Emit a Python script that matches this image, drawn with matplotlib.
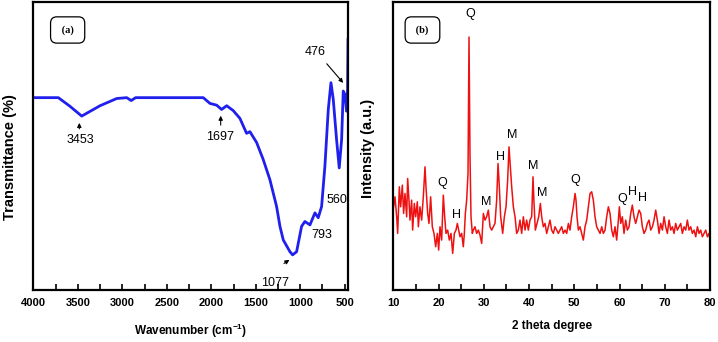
import matplotlib
matplotlib.use("Agg")
from matplotlib import pyplot as plt
from matplotlib.ticker import MultipleLocator

plt.rcParams['font.family'] = ['Liberation Sans', 'DejaVu Sans']
plt.rcParams['mathtext.fontset'] = 'custom'
plt.rcParams['mathtext.rm'] = 'Liberation Sans'
plt.rcParams['mathtext.bf'] = 'Liberation Sans:bold'

# (a) FTIR spectrum (transmittance in arbitrary %)
wavenumber = [4000, 3719, 3588, 3456, 3250, 3063, 2950, 2900, 2850, 2090, 2015, 1940,
              1884, 1827, 1753, 1678, 1603, 1566, 1490, 1416, 1341, 1266, 1228, 1191,
              1116, 1086, 1041, 985, 948, 891, 835, 798, 760, 723, 685, 655, 629, 592,
              562, 535, 517, 498, 480, 468, 463]
transmittance = [66.8, 66.8, 63.8, 60.4, 64.0, 66.5, 66.8, 65.8, 66.8, 66.8, 64.8, 64.2,
                 62.7, 64.0, 62.3, 59.6, 54.4, 55.0, 51.2, 45.3, 38.3, 29.0, 22.1, 17.4,
                 13.3, 12.2, 13.3, 22.1, 23.8, 22.6, 26.8, 25.1, 29.0, 43.0, 62.7, 72.0,
                 66.2, 52.3, 42.4, 52.3, 69.1, 67.9, 62.1, 69.7, 87.1]

# (b) XRD pattern (intensity in arbitrary units)
two_theta = [10.00, 10.37, 10.74, 10.96, 11.33, 11.62, 11.99, 12.28, 12.58, 12.95, 13.17,
             13.46, 13.68, 14.05, 14.27, 14.64, 14.94, 15.31, 15.53, 15.89, 16.26, 16.63,
             17.00, 17.22, 17.59, 17.88, 18.25, 18.62, 18.99, 19.36, 19.73, 20.02, 20.32,
             20.68, 21.05, 21.35, 21.64, 22.01, 22.38, 22.75, 23.12, 23.49, 23.85, 24.15,
             24.44, 24.74, 25.11, 25.47, 25.70, 25.92, 26.21, 26.51, 26.73, 26.95, 27.17,
             27.46, 27.69, 28.05, 28.42, 28.79, 29.16, 29.53, 29.90, 30.26, 30.63, 31.00,
             31.37, 31.74, 32.11, 32.47, 32.84, 33.14, 33.43, 33.73, 34.17, 34.54, 34.91,
             35.27, 35.57, 35.86, 36.16, 36.53, 36.90, 37.26, 37.63, 38.00, 38.37, 38.74,
             39.11, 39.47, 39.84, 40.21, 40.58, 40.87, 41.10, 41.39, 41.76, 42.13, 42.50,
             42.79, 43.16, 43.53, 43.90, 44.26, 44.63, 45.00, 45.37, 45.74, 46.11, 46.47,
             46.84, 47.21, 47.58, 47.95, 48.32, 48.69, 49.05, 49.42, 49.79, 50.16, 50.38,
             50.60, 50.90, 51.26, 51.63, 52.00, 52.37, 52.74, 53.11, 53.48, 53.84, 54.21,
             54.58, 54.95, 55.32, 55.69, 56.06, 56.42, 56.79, 57.16, 57.53, 57.90, 58.27,
             58.63, 59.00, 59.37, 59.74, 59.96, 60.26, 60.62, 60.99, 61.36, 61.73, 62.10,
             62.47, 62.83, 63.20, 63.57, 63.94, 64.31, 64.68, 65.04, 65.41, 65.78, 66.15,
             66.52, 66.89, 67.26, 67.62, 67.99, 68.36, 68.73, 69.10, 69.47, 69.84, 70.20,
             70.57, 70.94, 71.31, 71.68, 72.05, 72.41, 72.78, 73.15, 73.52, 73.89, 74.26,
             74.63, 74.99, 75.36, 75.73, 76.10, 76.47, 76.84, 77.21, 77.57, 77.94, 78.31,
             78.68, 79.05, 79.42, 79.78, 80.00]
intensity = [245, 280, 220, 170, 310, 250, 315, 230, 290, 220, 335,
             270, 210, 270, 180, 260, 220, 265, 190, 250, 210, 280,
             370, 310, 230, 200, 280, 190, 170, 130, 170, 120, 190,
             150, 285, 220, 170, 180, 150, 170, 110, 170, 180, 200,
             180, 160, 170, 130, 170, 230, 270, 350, 760, 400, 220,
             170, 180, 190, 170, 180, 165, 140, 230, 210, 220, 240,
             190, 180, 190, 200, 270, 380, 310, 220, 170, 220, 250,
             330, 430, 370, 310, 250, 220, 170, 180, 210, 170, 220,
             180, 210, 180, 210, 220, 340, 260, 180, 200, 220, 260,
             220, 190, 200, 170, 190, 210, 180, 170, 190, 180, 170,
             180, 190, 170, 180, 170, 200, 180, 220, 250, 290, 270,
             220, 180, 190, 170, 150, 190, 210, 250, 290, 295, 270,
             220, 190, 180, 170, 190, 170, 180, 220, 250, 230, 180,
             160, 190, 150, 210, 250, 200, 220, 170, 210, 180, 190,
             230, 255, 220, 200, 220, 240, 230, 190, 170, 180, 200,
             210, 180, 190, 210, 240, 210, 170, 200, 180, 220, 190,
             170, 210, 180, 190, 170, 200, 180, 190, 200, 170, 190,
             180, 210, 180, 190, 170, 180, 160, 190, 170, 180, 160,
             170, 180, 160, 170, 150]

ir_labels = ["3453", "1697", "1077", "793", "560", "476"]
xrd_labels = ["Q", "Q", "H", "M", "H", "M", "M", "M", "Q", "Q", "H", "H"]
xrd_label_x = [26.95, 20.9, 24.0, 30.5, 33.6, 36.2, 40.95, 43.0, 50.2, 60.7, 62.9, 65.0]
xrd_label_y = [830, 320, 225, 265, 400, 465, 372, 292, 330, 272, 295, 275]

fig = plt.figure(figsize=(7.18, 3.42), dpi=100)
ax1 = fig.add_axes([0.0464, 0.152, 0.4387, 0.842])
ax2 = fig.add_axes([0.5478, 0.152, 0.4411, 0.842])

# ---- panel (a)
ax1.plot(wavenumber, transmittance, color='#1f1fee', lw=2.0)
ax1.set_xlim(4000, 460)
ax1.set_ylim(0, 100)
ax1.xaxis.set_major_locator(MultipleLocator(500))
ax1.xaxis.set_minor_locator(MultipleLocator(250))
ax1.set_yticks([])
ax1.set_xlabel(r"Wavenumber (cm$^{\mathbf{-1}}$)", fontsize=8.5, fontweight='bold')
ax1.xaxis.set_label_coords(0.5, -0.112)
ax1.set_ylabel("Transmittance (%)", fontsize=10.5, fontweight='bold')
ax1.yaxis.set_label_coords(-0.052, 0.46)

arrow = dict(arrowstyle='-|>', color='black', lw=0.8, mutation_scale=6)
ax1.annotate("", xy=(3483, 59.0), xytext=(3483, 55.0), arrowprops=arrow)
ax1.text(3475, 52.1, ir_labels[0], ha='center', va='center', fontsize=9)
ax1.annotate("", xy=(1894, 61.5), xytext=(1894, 56.3), arrowprops=arrow)
ax1.text(1902, 53.2, ir_labels[1], ha='center', va='center', fontsize=9)
ax1.annotate("", xy=(1096, 11.0), xytext=(1209, 8.7), arrowprops=arrow)
ax1.text(1284, 2.6, ir_labels[2], ha='center', va='center', fontsize=9)
ax1.text(759, 19.1, ir_labels[3], ha='center', va='center', fontsize=9)
ax1.text(591, 31.3, ir_labels[4], ha='center', va='center', fontsize=9)
ax1.annotate("", xy=(497, 71.2), xytext=(722, 79.3), arrowprops=arrow)
ax1.text(835, 82.7, ir_labels[5], ha='center', va='center', fontsize=9)

# ---- panel (b)
ax2.plot(two_theta, intensity, color='#ee1111', lw=1.1)
ax2.set_xlim(10, 80)
ax2.set_ylim(0, 865)
ax2.xaxis.set_major_locator(MultipleLocator(10))
ax2.xaxis.set_minor_locator(MultipleLocator(5))
ax2.set_yticks([])
ax2.set_xlabel("2 theta degree", fontsize=8.5, fontweight='bold')
ax2.xaxis.set_label_coords(0.5, -0.104)
ax2.set_ylabel("Intensity (a.u.)", fontsize=10.5, fontweight='bold')
ax2.yaxis.set_label_coords(-0.058, 0.49)
for lab, x, y in zip(xrd_labels, xrd_label_x, xrd_label_y):
    ax2.text(x, y, lab, ha='center', va='center', fontsize=9)

for ax, tag, bx in [(ax1, "(a)", 0.109), (ax2, "(b)", 0.092)]:
    for s in ax.spines.values():
        s.set_linewidth(1.6)
    ax.tick_params(axis='x', which='both', direction='in', length=4, width=1.2,
                   labelsize=8, pad=6)
    for t in ax.get_xticklabels():
        t.set_fontweight('bold')
    ax.text(bx, 0.903, " " + tag + " ", transform=ax.transAxes, ha='center', va='center',
            fontsize=7.5, fontweight='bold', family='Liberation Serif',
            bbox=dict(boxstyle='round,pad=0.8,rounding_size=0.6', fc='white', ec='black', lw=0.9))

plt.savefig("out.png", dpi=100)
